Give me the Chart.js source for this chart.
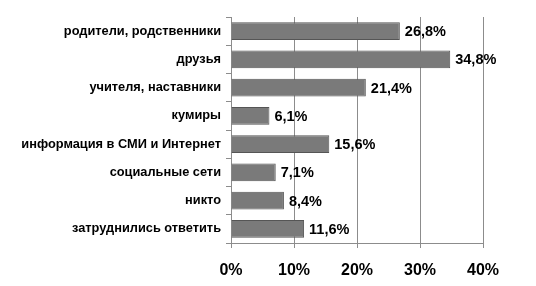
<!DOCTYPE html>
<html><head><meta charset="utf-8">
<script src="https://cdn.jsdelivr.net/npm/chart.js@4"></script>
<style>html,body{margin:0;padding:0;background:#fff}#wrap{width:536px;height:286px}</style>
</head><body><div id="wrap"><canvas id="c" width="536" height="286"></canvas></div>
<script>
const categories = ["родители, родственники","друзья","учителя, наставники","кумиры","информация в СМИ и Интернет","социальные сети","никто","затруднились ответить"];
const values = [26.8, 34.8, 21.4, 6.1, 15.6, 7.1, 8.4, 11.6];
const xTicks = [0, 10, 20, 30, 40];

const FONT = "'Liberation Sans', Arial, sans-serif";
const labelPlugin = {
  id: 'vals',
  afterDatasetsDraw(chart) {
    const ctx = chart.ctx;
    const meta = chart.getDatasetMeta(0);
    ctx.save();
    ctx.font = "bold 14.5px " + FONT;
    ctx.fillStyle = "#000";
    ctx.textBaseline = "middle";
    ctx.textAlign = "left";
    meta.data.forEach((bar, i) => {
      ctx.fillText(values[i].toFixed(1).replace('.', ',') + '%', bar.x + 5, bar.y + 1);
    });
    ctx.restore();
  }
};

new Chart(document.getElementById('c'), {
  type: 'bar',
  data: { labels: categories, datasets: [{ data: values, backgroundColor: '#7a7a7a', borderColor: '#555', borderWidth: 1, barPercentage: 0.62, categoryPercentage: 1 }] },
  options: {
    indexAxis: 'y', responsive: false, animation: false, devicePixelRatio: 1,
    layout: { padding: { top: 17, right: 53, left: 0, bottom: 0 } },
    plugins: { legend: { display: false }, tooltip: { enabled: false } },
    scales: {
      x: {
        min: 0, max: 40,
        afterBuildTicks(s) { s.ticks = xTicks.map(v => ({ value: v })); },
        afterFit(s) { s.height = 43; },
        grid: { color: '#8c8c8c', lineWidth: 1, tickLength: 5 },
        border: { color: '#8c8c8c' },
        ticks: { padding: 13, color: '#000', font: { family: FONT, size: 16, weight: 'bold' }, callback: v => v + '%' }
      },
      y: {
        afterFit(s) { s.width = 231; },
        grid: { offset: true, drawOnChartArea: false, color: '#8c8c8c', tickLength: 5 },
        border: { color: '#8c8c8c' },
        ticks: { padding: 5, color: '#000', font: { family: FONT, size: 12.8, weight: 'bold' } }
      }
    }
  },
  plugins: [labelPlugin]
});
</script></body></html>
